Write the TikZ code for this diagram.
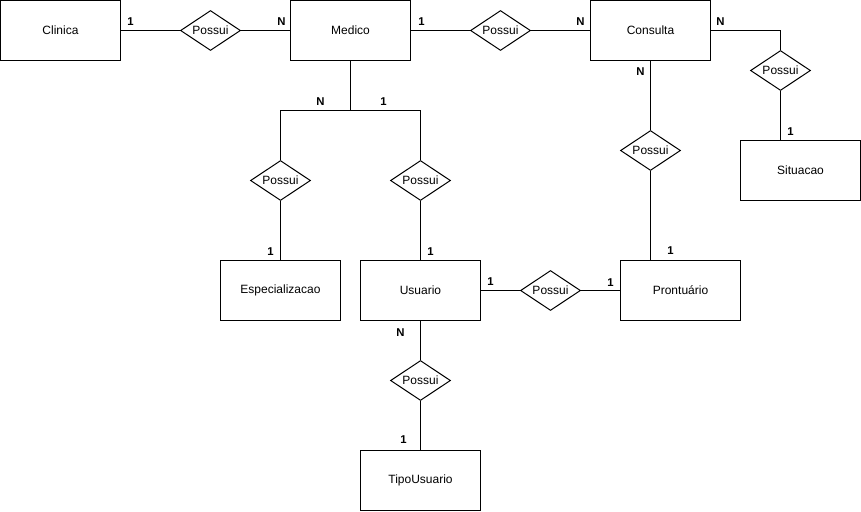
\documentclass[tikz,border=0pt]{standalone}
\usepackage{fontspec}
\setmainfont{Liberation Sans}
\usetikzlibrary{shapes.geometric}

\begin{document}
\begin{tikzpicture}[
    x=0.75pt, y=-0.75pt,
    line width=0.75pt,
    entity/.style={draw, rectangle, minimum width=90pt, minimum height=45pt, inner sep=0pt, font=\fontsize{9}{11}\selectfont},
    rel/.style={draw, diamond, aspect=1.5, minimum width=45pt, minimum height=30pt, inner sep=0pt, font=\fontsize{9}{11}\selectfont},
    card/.style={font=\bfseries\fontsize{8.5}{10}\selectfont, inner sep=0pt}
]
    \useasboundingbox (-0.5,-0.5) rectangle (860.5,510.5);

    % Entities
    \node[entity] (clinica) at (60,30) {Clinica};
    \node[entity] (medico) at (350,30) {Medico};
    \node[entity] (consulta) at (650,30) {Consulta};
    \node[entity] (situacao) at (800,170) {Situacao};
    \node[entity] (espec) at (280,290) {Especializacao};
    \node[entity] (usuario) at (420,290) {Usuario};
    \node[entity] (prontuario) at (680,290) {Prontuário};
    \node[entity] (tipo) at (420,480) {TipoUsuario};

    % Relationships
    \node[rel] (clinMed) at (210,30) {Possui};
    \node[rel] (medCons) at (500,30) {Possui};
    \node[rel] (consSit) at (780,70) {Possui};
    \node[rel] (medEsp) at (280,180) {Possui};
    \node[rel] (medUsu) at (420,180) {Possui};
    \node[rel] (consPront) at (650,150) {Possui};
    \node[rel] (usuPront) at (550,290) {Possui};
    \node[rel] (usuTipo) at (420,380) {Possui};

    \coordinate (split) at (350,110);

    % Connections
    \draw (clinica.east) -- (clinMed.west);
    \draw (clinMed.east) -- (medico.west);
    \draw (medico.east) -- (medCons.west);
    \draw (medCons.east) -- (consulta.west);
    \draw (consulta.east) -| (consSit.north);
    \draw (consSit.south) -- (consSit.south |- situacao.north);
    \draw (medico.south) -- (split);
    \draw (split) -| (medEsp.north);
    \draw (split) -| (medUsu.north);
    \draw (medEsp.south) -- (espec.north);
    \draw (medUsu.south) -- (usuario.north);
    \draw (consulta.south) -- (consPront.north);
    \draw (consPront.south) -- (consPront.south |- prontuario.north);
    \draw (usuario.east) -- (usuPront.west);
    \draw (usuPront.east) -- (prontuario.west);
    \draw (usuario.south) -- (usuTipo.north);
    \draw (usuTipo.south) -- (tipo.north);

    % Cardinalities
    \node[card] (c1) at (130,21) {1};
    \node[card] (c2) at (281,21) {N};
    \node[card] (c3) at (421,21) {1};
    \node[card] (c4) at (580,21) {N};
    \node[card] (c5) at (720,21) {N};
    \node[card] (c6) at (640,71) {N};
    \node[card] (c7) at (790,131) {1};
    \node[card] (c8) at (320,101) {N};
    \node[card] (c9) at (383,101) {1};
    \node[card] (c10) at (270,251) {1};
    \node[card] (c11) at (430,251) {1};
    \node[card] (c12) at (490,281) {1};
    \node[card] (c13) at (610,282) {1};
    \node[card] (c14) at (670,250) {1};
    \node[card] (c15) at (400,332) {N};
    \node[card] (c16) at (403,439) {1};
\end{tikzpicture}
\end{document}
